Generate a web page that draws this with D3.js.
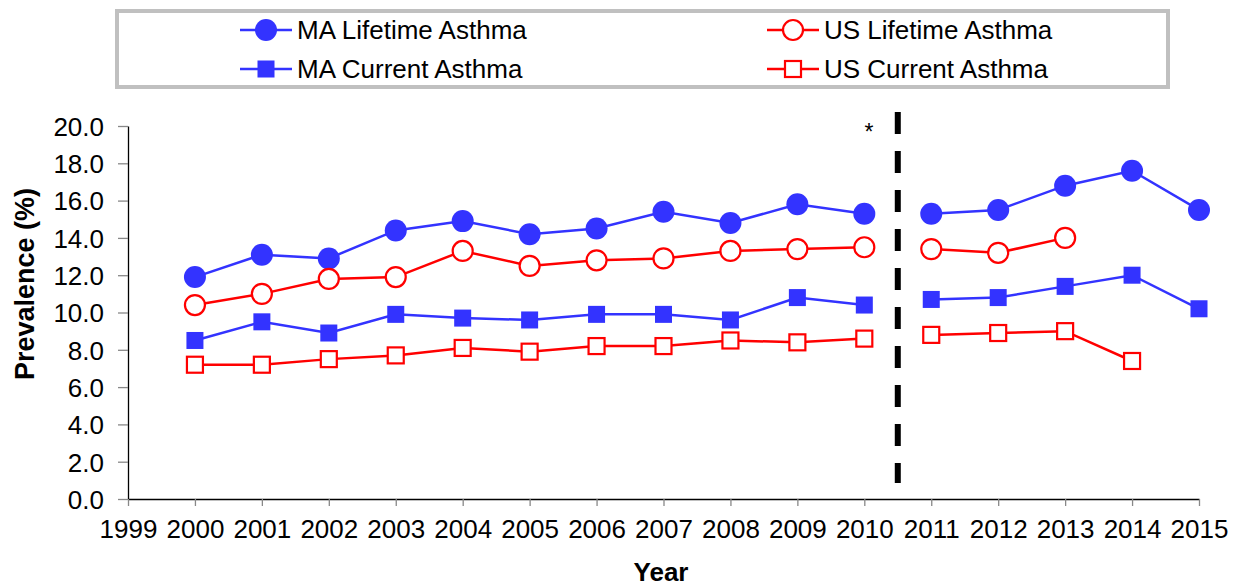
<!DOCTYPE html>
<html><head><meta charset="utf-8">
<script src="https://cdn.jsdelivr.net/npm/d3@7/dist/d3.min.js"></script>
<style>body{margin:0;background:#fff}svg{display:block}text{font-family:"Liberation Sans",Arial,sans-serif}</style>
</head><body>
<script>
const years = [2000,2001,2002,2003,2004,2005,2006,2007,2008,2009,2010,2011,2012,2013,2014,2015];
const maLifetime = [11.9,13.1,12.9,14.4,14.9,14.2,14.5,15.4,14.8,15.8,15.3,15.3,15.5,16.8,17.6,15.5];
const usLifetime = [10.4,11.0,11.8,11.9,13.3,12.5,12.8,12.9,13.3,13.4,13.5,13.4,13.2,14.0,null,null];
const maCurrent = [8.5,9.5,8.9,9.9,9.7,9.6,9.9,9.9,9.6,10.8,10.4,10.7,10.8,11.4,12.0,10.2];
const usCurrent = [7.2,7.2,7.5,7.7,8.1,7.9,8.2,8.2,8.5,8.4,8.6,8.8,8.9,9.0,7.4,null];
const xTicks = [1999,2000,2001,2002,2003,2004,2005,2006,2007,2008,2009,2010,2011,2012,2013,2014,2015];
const yTicks = [0,2,4,6,8,10,12,14,16,18,20];
const breakYear = 2010.5;

const W=1244,H=587;
const svg=d3.select("body").append("svg").attr("width",W).attr("height",H);
const x=d3.scaleLinear().domain([1999,2015]).range([128,1199]);
const y=d3.scaleLinear().domain([0,20]).range([499,126]);
const BLUE="#3333FF", RED="#FF0000";
const FS=26;

// axes
const ya=svg.append("g").attr("transform","translate(128,0)")
 .call(d3.axisLeft(y).tickValues(yTicks).tickFormat(d3.format(".1f")).tickSize(10).tickSizeOuter(0));
ya.select(".domain").attr("stroke","#000").attr("stroke-width",1.3);
ya.selectAll(".tick line").attr("stroke","#888").attr("stroke-width",1.3);
ya.selectAll(".tick text").attr("font-size",FS).attr("fill","#000").attr("x",-24).attr("dy","0.36em");

const xa=svg.append("g").attr("transform","translate(0,499)")
 .call(d3.axisBottom(x).tickValues(xTicks).tickFormat(d3.format("d")).tickSize(7).tickSizeOuter(0));
xa.select(".domain").attr("stroke","#000").attr("stroke-width",1.3);
xa.selectAll(".tick line").attr("stroke","#888").attr("stroke-width",1.3);
xa.selectAll(".tick text").attr("font-size",FS).attr("fill","#000").attr("y",21).attr("dy","0.71em");

svg.append("text").attr("x",661).attr("y",581).attr("text-anchor","middle")
 .attr("font-size",26).attr("font-weight","bold").text("Year");
svg.append("text").attr("transform","translate(34,284) rotate(-90)").attr("text-anchor","middle")
 .attr("font-size",27).attr("font-weight","bold").text("Prevalence (%)");

// break line
svg.append("line").attr("x1",x(breakYear)).attr("x2",x(breakYear)).attr("y1",112).attr("y2",483)
 .attr("stroke","#000").attr("stroke-width",6).attr("stroke-dasharray","22 17");
svg.append("text").attr("x",869).attr("y",140).attr("text-anchor","middle").attr("font-size",23).text("*");

const series=[
 {name:"MA Lifetime Asthma",vals:maLifetime,color:BLUE,shape:"circle",filled:true},
 {name:"US Lifetime Asthma",vals:usLifetime,color:RED,shape:"circle",filled:false},
 {name:"MA Current Asthma",vals:maCurrent,color:BLUE,shape:"square",filled:true},
 {name:"US Current Asthma",vals:usCurrent,color:RED,shape:"square",filled:false}
];
const line=d3.line().defined(d=>d.v!=null).x(d=>x(d.yr)).y(d=>y(d.v));
function marker(g,s,cx,cy){
  if(s.shape==="circle"){
    const r=s.filled?11:10;
    g.append("circle").attr("cx",cx).attr("cy",cy).attr("r",r)
     .attr("fill",s.filled?s.color:"#fff").attr("stroke",s.color).attr("stroke-width",s.filled?0:2.2);
  } else {
    const a=s.filled?17:16;
    g.append("rect").attr("x",cx-a/2).attr("y",cy-a/2).attr("width",a).attr("height",a)
     .attr("fill",s.filled?s.color:"#fff").attr("stroke",s.color).attr("stroke-width",s.filled?0:2.2);
  }
}
series.forEach(s=>{
  const pts=years.map((yr,i)=>({yr,v:s.vals[i]}));
  const seg1=pts.filter(p=>p.yr<breakYear), seg2=pts.filter(p=>p.yr>breakYear);
  [seg1,seg2].forEach(seg=>svg.append("path").attr("d",line(seg)).attr("fill","none")
    .attr("stroke",s.color).attr("stroke-width",2.5));
});
series.forEach(s=>{
  const g=svg.append("g");
  years.forEach((yr,i)=>{ if(s.vals[i]!=null) marker(g,s,x(yr),y(s.vals[i])); });
});

// legend
svg.append("rect").attr("x",117).attr("y",11).attr("width",1051).attr("height",76)
 .attr("fill","#fff").attr("stroke","#c0c0c0").attr("stroke-width",4);
const legPos=[[266,30],[793,30],[266,69],[793,69]];
series.forEach((s,i)=>{
  const [lx,ly]=legPos[i];
  const g=svg.append("g");
  g.append("line").attr("x1",lx-26).attr("x2",lx+26).attr("y1",ly).attr("y2",ly).attr("stroke",s.color).attr("stroke-width",2.5);
  marker(g,s,lx,ly);
  g.append("text").attr("x",lx+31).attr("y",ly).attr("dy","0.36em").attr("font-size",FS).text(s.name);
});
</script>
</body></html>
